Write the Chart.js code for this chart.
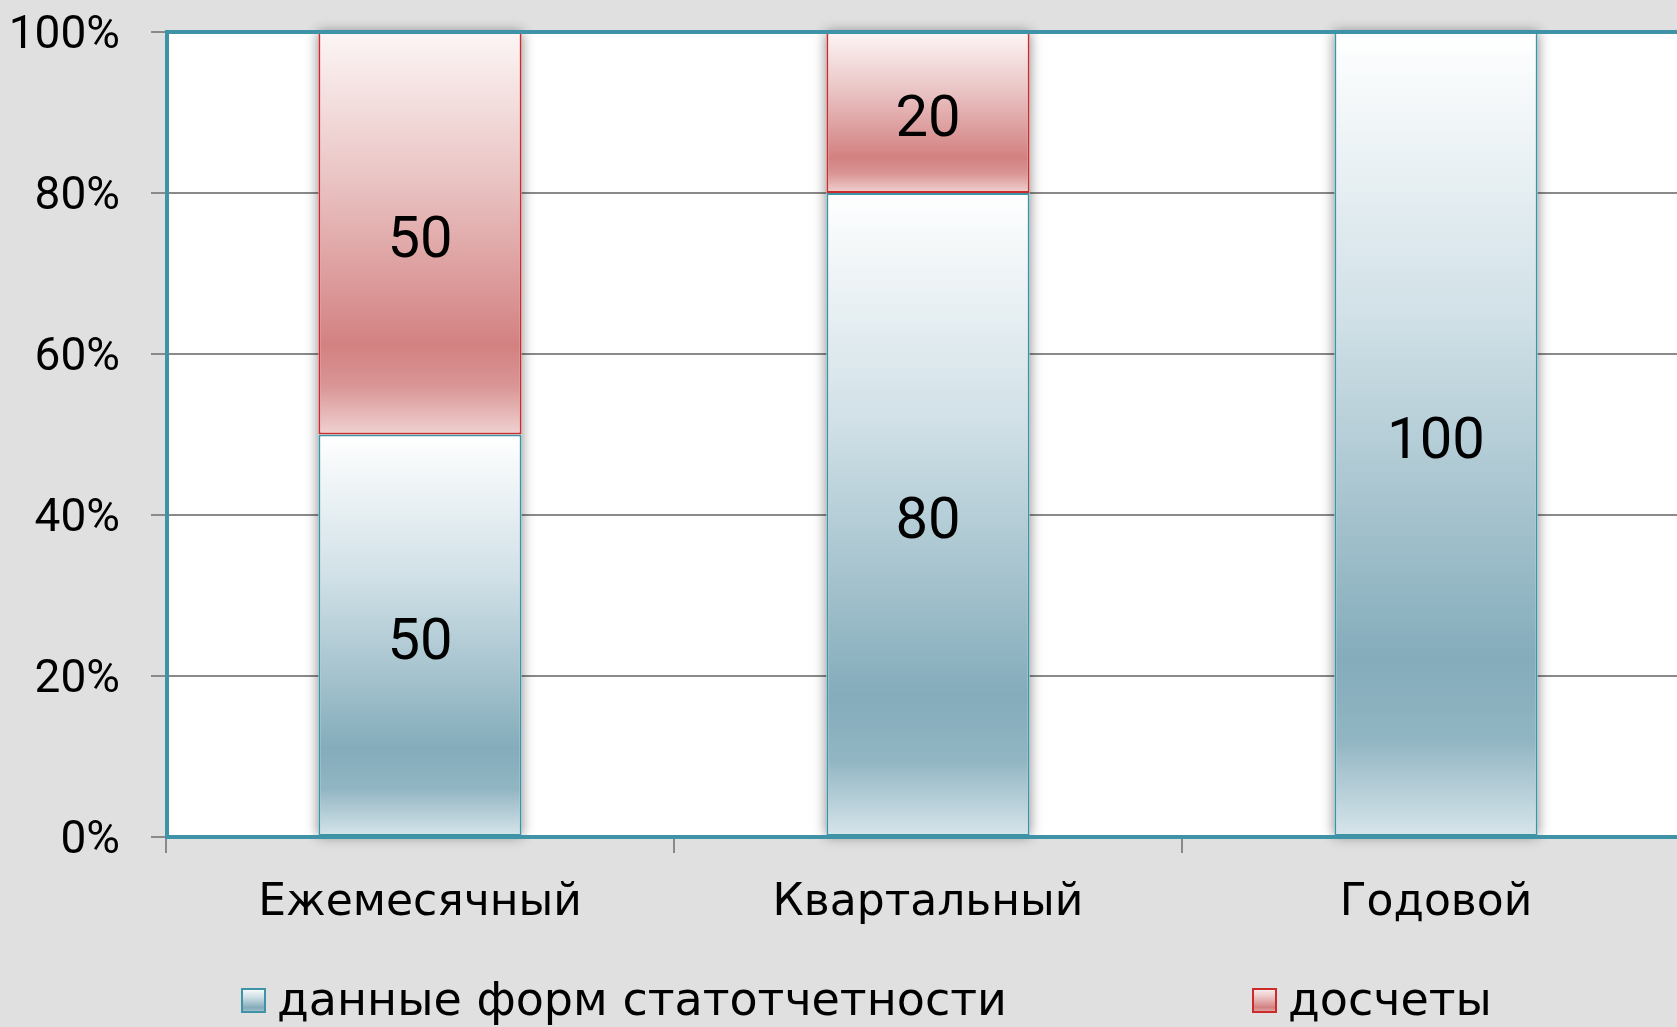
<!DOCTYPE html>
<html>
<head>
<meta charset="utf-8">
<script src="https://cdn.jsdelivr.net/npm/chart.js@4"></script>
<style>
  html, body { margin: 0; padding: 0; background: #e0e0e0; overflow: hidden; }
  #wrap { width: 1700px; height: 1027px; }
</style>
</head>
<body>
<div id="wrap"><canvas id="chart" width="1700" height="1027"></canvas></div>
<script>
'use strict';

// Data.
var categories = ['Ежемесячный', 'Квартальный', 'Годовой'];
var seriesNames = ['данные форм статотчетности', 'досчеты'];
var statForms = [50, 80, 100];
var estimates = [50, 20, 0];
var yTickStep = 20;
var yMax = 100;

//
// Office-like vertical gradients for the two series.
//
var blueStops = [[0, '#ffffff'], [0.35, '#d1e1e7'], [0.78, '#84acbb'], [0.88, '#91b5c3'], [1, '#d8e6eb']];
var redStops = [[0, '#fcf5f5'], [0.35, '#ebc6c6'], [0.78, '#d38181'], [0.88, '#da9595'], [1, '#f0d2d2']];
var teal = '#3f93a6';
var red = '#cc2b2b';
var wordFont = '"DejaVu Sans", sans-serif';
var numFont = 'Roboto, sans-serif';

function gradient(ctx, top, bottom, stops) {
  var g = ctx.createLinearGradient(0, top, 0, bottom);
  stops.forEach(function (s) { g.addColorStop(s[0], s[1]); });
  return g;
}

function barFill(stops) {
  return function fill(c) {
    var chart = c.chart;
    if (!chart.chartArea || c.type !== 'data') return stops[2][1];
    var sets = chart.data.datasets, base = 0;
    for (var i = 0; i < c.datasetIndex; i++) base += sets[i].data[c.dataIndex];
    var value = sets[c.datasetIndex].data[c.dataIndex];
    var y = chart.scales.y;
    var top = y.getPixelForValue(base + value), bottom = y.getPixelForValue(base);
    if (!(bottom > top)) return stops[2][1];
    return gradient(chart.ctx, top, bottom, stops);
  };
}

//
// Plot background, bar shadows, frame, value labels and legend.
//
var decor = {
  id: 'decor',
  beforeDraw: function (chart) {
    var a = chart.chartArea, ctx = chart.ctx;
    ctx.save();
    ctx.fillStyle = '#ffffff';
    ctx.fillRect(a.left, a.top, a.right - a.left, a.bottom - a.top);
    ctx.restore();
  },
  beforeDatasetsDraw: function (chart) {
    var ctx = chart.ctx, metas = chart.getSortedVisibleDatasetMetas();
    ctx.save();
    ctx.shadowColor = 'rgba(0,0,0,0.45)';
    ctx.shadowBlur = 12;
    ctx.fillStyle = '#ffffff';
    metas[0].data.forEach(function (bar, i) {
      var top = bar.y, bottom = bar.base;
      metas.forEach(function (m) { if (m.data[i].y < top) top = m.data[i].y; });
      ctx.fillRect(bar.x - bar.width / 2, top, bar.width, bottom - top);
    });
    ctx.restore();
  },
  afterDatasetsDraw: function (chart) {
    var a = chart.chartArea, ctx = chart.ctx;
    ctx.save();
    ctx.strokeStyle = teal;
    ctx.lineWidth = 4;
    ctx.beginPath();
    ctx.moveTo(a.right + 5, a.top);
    ctx.lineTo(a.left + 1, a.top);
    ctx.lineTo(a.left + 1, a.bottom);
    ctx.lineTo(a.right + 5, a.bottom);
    ctx.stroke();

    // value labels
    ctx.fillStyle = '#000';
    ctx.font = '58px ' + numFont;
    ctx.textAlign = 'center';
    ctx.textBaseline = 'middle';
    chart.getSortedVisibleDatasetMetas().forEach(function (meta) {
      var values = chart.data.datasets[meta.index].data;
      meta.data.forEach(function (bar, i) {
        if (!values[i]) return;
        ctx.fillText(String(values[i]), bar.x, (bar.y + bar.base) / 2 + 9);
      });
    });
    ctx.restore();
  },
  afterDraw: function (chart) {
    var ctx = chart.ctx, xs = [241, 1252], y = 988, size = 25;
    var strokes = [teal, red], fills = [blueStops, redStops];
    ctx.save();
    ctx.font = '46px ' + wordFont;
    ctx.textBaseline = 'alphabetic';
    ctx.textAlign = 'left';
    seriesNames.forEach(function (name, i) {
      ctx.fillStyle = gradient(ctx, y, y + size, fills[i]);
      ctx.fillRect(xs[i], y, size, size);
      ctx.strokeStyle = strokes[i];
      ctx.lineWidth = 2;
      ctx.strokeRect(xs[i] + 1, y + 1, size - 2, size - 2);
      ctx.fillStyle = '#000';
      ctx.fillText(name, xs[i] + size + 11, 1015);
    });
    ctx.restore();
  }
};

new Chart(document.getElementById('chart'), {
  type: 'bar',
  data: {
    labels: categories,
    datasets: [{
      label: seriesNames[0],
      data: statForms,
      backgroundColor: barFill(blueStops),
      borderColor: teal,
      borderWidth: 2,
      borderSkipped: false,
      categoryPercentage: 1,
      barPercentage: 0.4
    }, {
      label: seriesNames[1],
      data: estimates,
      backgroundColor: barFill(redStops),
      borderColor: red,
      borderWidth: 2,
      borderSkipped: false,
      categoryPercentage: 1,
      barPercentage: 0.4
    }]
  },
  options: {
    responsive: false,
    animation: false,
    devicePixelRatio: 1,
    layout: { padding: { left: 0, top: 32, right: 10, bottom: 78 } },
    plugins: {
      legend: { display: false },
      tooltip: { enabled: false }
    },
    scales: {
      x: {
        stacked: true,
        border: { display: false },
        grid: { drawOnChartArea: false, drawTicks: true, tickLength: 16, color: '#8a8a8a', lineWidth: 2, offset: true },
        ticks: { color: '#000', padding: 24, font: { family: wordFont, size: 44 } },
        afterFit: function (scale) { scale.height = 112; }
      },
      y: {
        stacked: true,
        min: 0,
        max: yMax,
        border: { display: false },
        grid: { color: '#8a8a8a', lineWidth: 2, tickLength: 15 },
        ticks: {
          stepSize: yTickStep,
          color: '#000',
          padding: 31,
          labelOffset: 4,
          font: { family: numFont, size: 46 },
          callback: function (v) { return v + '%'; }
        },
        afterFit: function (scale) {
          scale.width = 166;
          scale.paddingTop = 0;
          scale.paddingBottom = 0;
        }
      }
    }
  },
  plugins: [decor]
});
</script>
</body>
</html>
